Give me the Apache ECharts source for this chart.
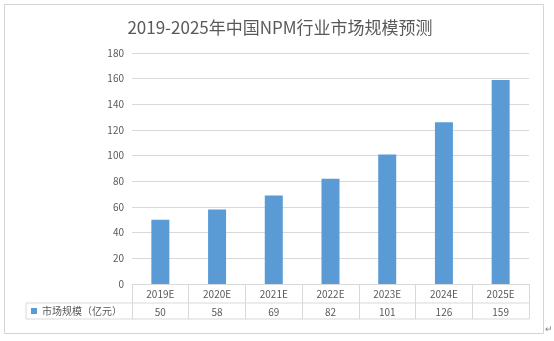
<!DOCTYPE html>
<html>
<head>
<meta charset="utf-8">
<script src="https://cdn.jsdelivr.net/npm/echarts@6/dist/echarts.min.js"></script>
<style>
  html, body { margin: 0; padding: 0; background: #ffffff; }
  #chart { width: 554px; height: 341px; }
</style>
</head>
<body>
<div id="chart"></div>
<script>
// Market size forecast, 2019E-2025E (unit: 100 million yuan)
const titleText = '2019-2025年中国NPM行业市场规模预测';
const seriesName = '市场规模（亿元）';
const categories = ['2019E', '2020E', '2021E', '2022E', '2023E', '2024E', '2025E'];
const marketSize = [50, 58, 69, 82, 101, 126, 159];
const yTicks = { min: 0, max: 180, interval: 20 };

const FONT = '"Noto Sans CJK SC", "Noto Sans", sans-serif';
const TEXT = '#595959';
const LINE = '#d9d9d9';
const BAR = '#5b9bd5';

// data table under the plot: header row (years) + value row
const ROW1 = 19, ROW2 = 16;
const TABLE_LEFT = 26;

const chart = echarts.init(document.getElementById('chart'), null, { renderer: 'canvas' });

const option = {
  backgroundColor: '#ffffff',
  animation: false,
  title: {
    text: titleText,
    left: 275, top: 14, textAlign: 'center',
    textStyle: { fontFamily: FONT, fontSize: 17, fontWeight: 'normal', color: TEXT }
  },
  legend: {
    data: [seriesName],
    left: 31, top: 306, padding: 0,
    itemWidth: 6, itemHeight: 6, icon: 'rect',
    textStyle: { fontFamily: FONT, fontSize: 10, color: TEXT }
  },
  grid: { left: 132, right: 25, top: 53, bottom: 57, containLabel: false },
  xAxis: {
    type: 'category',
    data: categories,
    axisLine: { show: true, lineStyle: { color: LINE, width: 1 } },
    axisTick: { show: true, length: ROW1 + ROW2, lineStyle: { color: LINE } },
    axisLabel: {
      margin: 1,
      interval: 0,
      formatter: (v, i) => `{y|${v}}\n{v|${marketSize[i]}}`,
      rich: {
        y: { fontFamily: FONT, fontSize: 10, color: TEXT, lineHeight: ROW1 },
        v: { fontFamily: FONT, fontSize: 10, color: TEXT, lineHeight: ROW2 }
      }
    }
  },
  yAxis: {
    type: 'value',
    min: yTicks.min, max: yTicks.max, interval: yTicks.interval,
    axisLine: { show: false },
    axisTick: { show: false },
    axisLabel: { margin: 8, fontFamily: FONT, fontSize: 10, color: TEXT },
    splitLine: { lineStyle: { color: LINE, width: 1 } }
  },
  series: [{
    name: seriesName,
    type: 'bar',
    data: marketSize,
    barWidth: 18,
    itemStyle: { color: BAR }
  }]
};

chart.setOption(option);

// table borders and outer frame, placed from the grid's own pixel positions
const gridRect = chart.getModel().getComponent('grid', 0).coordinateSystem.getRect();
const axisY = gridRect.y + gridRect.height;
const right = gridRect.x + gridRect.width;
const yMid = axisY + ROW1;
const yBot = axisY + ROW1 + ROW2;

const lineStyle = { stroke: LINE, lineWidth: 1 };
chart.setOption({
  graphic: [
    { type: 'rect', shape: { x: 4.5, y: 4.5, width: 539, height: 329 },
      style: { fill: 'none', stroke: '#d4d4d4', lineWidth: 1 }, silent: true },
    { type: 'line', shape: { x1: TABLE_LEFT, y1: yMid, x2: right, y2: yMid }, style: lineStyle, silent: true },
    { type: 'line', shape: { x1: TABLE_LEFT, y1: yBot, x2: right, y2: yBot }, style: lineStyle, silent: true },
    { type: 'line', shape: { x1: TABLE_LEFT, y1: yMid, x2: TABLE_LEFT, y2: yBot }, style: lineStyle, silent: true },
    { type: 'text', left: 545, top: 324,
      style: { text: '↵', fontSize: 9, fill: '#808080', fontFamily: FONT }, silent: true }
  ]
});
</script>
</body>
</html>
